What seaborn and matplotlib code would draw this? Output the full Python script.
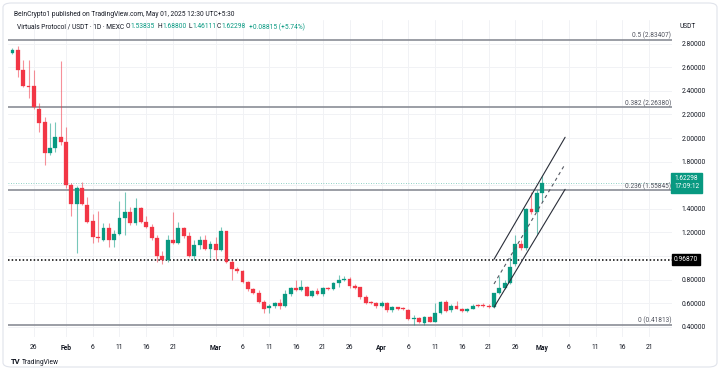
import numpy as np
import pandas as pd
import matplotlib
matplotlib.use("Agg")
import matplotlib.pyplot as plt
import matplotlib.dates as mdates
from matplotlib.patches import FancyBboxPatch
import seaborn as sns

# ---------------- data ----------------
start_date = "2025-01-22"
opens = [2.72, 2.75, 2.58, 2.44, 2.44, 2.25, 2.14, 1.87, 1.92, 2.01,
         1.97, 1.60, 1.44, 1.58, 1.43, 1.30, 1.16, 1.14, 1.24, 1.14,
         1.19, 1.32, 1.37, 1.28, 1.41, 1.29, 1.25, 1.15, 1.00, 0.97,
         1.14, 1.11, 1.24, 1.17, 1.00, 1.09, 1.14, 1.06, 1.10, 1.05,
         1.21, 0.95, 0.89, 0.87, 0.78, 0.72, 0.69, 0.61, 0.56, 0.58,
         0.60, 0.58, 0.676, 0.73, 0.71, 0.74, 0.665, 0.70, 0.68, 0.727,
         0.72, 0.77, 0.80, 0.81, 0.75, 0.735, 0.656, 0.61, 0.60, 0.575,
         0.60, 0.545, 0.565, 0.56, 0.545, 0.467, 0.475, 0.436, 0.48, 0.444,
         0.52, 0.614, 0.54, 0.58, 0.555, 0.537, 0.555, 0.585, 0.58, 0.575,
         0.566, 0.69, 0.727, 0.77, 0.93, 1.10, 1.066, 1.397, 1.374, 1.53835]
highs = [2.76, 2.78, 2.66, 2.66, 2.58, 2.30, 2.18, 2.13, 2.14, 2.65,
         2.09, 1.62, 1.59, 1.63, 1.50, 1.36, 1.38, 1.28, 1.28, 1.22,
         1.47, 1.54, 1.42, 1.49, 1.42, 1.34, 1.27, 1.18, 1.04, 1.18,
         1.37, 1.29, 1.25, 1.20, 1.14, 1.17, 1.18, 1.13, 1.16, 1.25,
         1.21, 0.97, 0.91, 0.88, 0.79, 0.73, 0.71, 0.63, 0.59, 0.61,
         0.64, 0.71, 0.74, 0.80, 0.80, 0.75, 0.71, 0.73, 0.74, 0.74,
         0.78, 0.84, 0.83, 0.82, 0.76, 0.74, 0.67, 0.62, 0.61, 0.62,
         0.61, 0.58, 0.57, 0.57, 0.55, 0.50, 0.48, 0.49, 0.49, 0.60,
         0.62, 0.63, 0.59, 0.62, 0.56, 0.56, 0.59, 0.59, 0.60, 0.59,
         0.69, 0.83, 0.80, 0.995, 1.18, 1.14, 1.41, 1.546, 1.56, 1.688]
lows = [2.71, 2.52, 2.43, 2.34, 2.25, 2.05, 1.77, 1.86, 1.88, 1.94,
        1.58, 1.34, 1.03, 1.43, 1.28, 1.11, 1.12, 1.13, 1.08, 1.08,
        1.18, 1.18, 1.26, 1.26, 1.28, 1.24, 1.14, 0.95, 0.93, 0.95,
        1.10, 1.10, 1.15, 0.99, 0.97, 1.06, 1.05, 0.98, 0.97, 1.04,
        0.94, 0.80, 0.86, 0.77, 0.70, 0.68, 0.60, 0.52, 0.52, 0.56,
        0.55, 0.57, 0.66, 0.70, 0.70, 0.66, 0.65, 0.67, 0.66, 0.71,
        0.71, 0.74, 0.79, 0.73, 0.72, 0.64, 0.59, 0.59, 0.56, 0.565,
        0.53, 0.53, 0.54, 0.54, 0.46, 0.415, 0.43, 0.42, 0.44, 0.44,
        0.51, 0.53, 0.53, 0.55, 0.53, 0.53, 0.55, 0.57, 0.57, 0.56,
        0.56, 0.68, 0.72, 0.76, 0.92, 1.05, 1.05, 1.36, 1.19, 1.46111]
closes = [2.75, 2.58, 2.44, 2.43, 2.26, 2.13, 1.87, 1.92, 2.01, 1.97,
          1.60, 1.44, 1.58, 1.44, 1.29, 1.16, 1.15, 1.24, 1.14, 1.19,
          1.32, 1.37, 1.28, 1.41, 1.29, 1.25, 1.15, 1.00, 0.97, 1.14,
          1.11, 1.24, 1.17, 1.00, 1.09, 1.14, 1.06, 1.10, 1.05, 1.21,
          0.95, 0.89, 0.87, 0.78, 0.72, 0.69, 0.61, 0.55, 0.58, 0.60,
          0.575, 0.676, 0.727, 0.71, 0.74, 0.665, 0.70, 0.68, 0.727, 0.72,
          0.77, 0.80, 0.81, 0.745, 0.73, 0.65, 0.60, 0.60, 0.575, 0.60,
          0.54, 0.565, 0.55, 0.553, 0.467, 0.475, 0.44, 0.487, 0.445, 0.52,
          0.61, 0.537, 0.575, 0.555, 0.537, 0.555, 0.58, 0.58, 0.575, 0.57,
          0.685, 0.727, 0.775, 0.91, 1.10, 1.066, 1.397, 1.37, 1.53483, 1.62298]

fib_ratios = ["0.5", "0.382", "0.236", "0"]
fib_prices = [2.83407, 2.26380, 1.55845, 0.41813]
marker_price = 0.96870
countdown = "17:09:12"

channel_dates = ["2025-04-22 00:00", "2025-05-05 07:00"]
channel_upper = [0.973, 2.007]
channel_mid = [0.764, 1.780]
channel_lower = [0.566, 1.566]

price_ticks = [0.4, 0.6, 0.8, 1.0, 1.2, 1.4, 1.6, 1.8, 2.0, 2.2, 2.4, 2.6, 2.8]
hidden_ticks = [1.0, 1.6]   # covered by the price boxes in the reference
date_ticks = ["2025-01-26", "2025-02-01", "2025-02-06", "2025-02-11", "2025-02-16",
              "2025-02-21", "2025-03-01", "2025-03-06", "2025-03-11", "2025-03-16",
              "2025-03-21", "2025-03-26", "2025-04-01", "2025-04-06", "2025-04-11",
              "2025-04-16", "2025-04-21", "2025-04-26", "2025-05-01", "2025-05-06",
              "2025-05-11", "2025-05-16", "2025-05-21"]
date_labels = ["26", "Feb", "6", "11", "16", "21", "Mar", "6", "11", "16", "21", "26",
               "Apr", "6", "11", "16", "21", "26", "May", "6", "11", "16", "21"]

# ---------------- style ----------------
sns.set_theme(style="white")
FONT = ["Roboto", "DejaVu Sans"]
plt.rcParams["font.family"] = FONT

GREEN = "#089981"
RED = "#F23645"
GRID = "#f1f2f5"
TXT = "#131722"
FIBC = "#8a8d96"

W, H = 720, 370
fig = plt.figure(figsize=(W / 100, H / 100), dpi=100)
fig.patch.set_facecolor("white")

L_px, R_px, T_px, B_px = 8, 672, 20, 337
ax = fig.add_axes([L_px / W, 1 - B_px / H, (R_px - L_px) / W, (B_px - T_px) / H])

dates = pd.date_range(start_date, periods=len(opens), freq="D")
df = pd.DataFrame({"date": dates, "open": opens, "high": highs,
                   "low": lows, "close": closes})
df["up"] = df["close"] >= df["open"]
df["color"] = np.where(df["up"], GREEN, RED)
df["bottom"] = df[["open", "close"]].min(axis=1)
df["height"] = (df["close"] - df["open"]).abs().clip(lower=0.008)

base = mdates.date2num(pd.Timestamp("2025-01-01"))
ax.set_xlim(base + 20.16, base + 144.27)
ax.set_ylim(0.3144, 3.0008)

# grid
ax.set_yticks(price_ticks)
ax.set_xticks(mdates.date2num(pd.to_datetime(date_ticks)))
ax.grid(True, color=GRID, lw=0.7)
ax.set_axisbelow(True)

# wicks
xnum = mdates.date2num(df["date"])
ax.vlines(xnum, df["low"], df["high"], colors=df["color"], lw=0.8, alpha=0.55, zorder=2)
# bodies
ax.bar(xnum, df["height"], bottom=df["bottom"], width=0.72, color=df["color"],
       edgecolor=df["color"], linewidth=0.2, zorder=3)

# fib levels
for r, p in zip(fib_ratios, fib_prices):
    ax.axhline(p, color=FIBC, lw=1.2, zorder=1.8)
    ax.text(0.9985, p, f"{r} ({p:.5f})", transform=ax.get_yaxis_transform(),
            ha="right", va="bottom", fontsize=4.7, color="#50535e", zorder=4)

# dotted black level
ax.axhline(marker_price, color="black", lw=1.1, ls=(0, (1.0, 1.4)), zorder=1.9)
# current price dotted
last_close = closes[-1]
ax.axhline(last_close, color=GREEN, lw=0.6, ls=(0, (1, 2)), alpha=0.6, zorder=1.9)

# channel lines
cdates = mdates.date2num(pd.to_datetime(channel_dates))
sns.lineplot(x=cdates, y=channel_upper, ax=ax, color="#2a2e39", lw=0.8, zorder=5)
sns.lineplot(x=cdates, y=channel_lower, ax=ax, color="#2a2e39", lw=0.8, zorder=5)
sns.lineplot(x=cdates, y=channel_mid, ax=ax, color="#555963", lw=0.8,
             linestyle=(0, (3, 3)), zorder=5)

# axes formatting
for s in ax.spines.values():
    s.set_visible(False)
ax.yaxis.tick_right()
ax.set_yticklabels(["" if v in hidden_ticks else f"{v:.5f}" for v in price_ticks])
ax.tick_params(axis="y", length=0, pad=7, labelsize=4.9, labelcolor=TXT)
ax.set_xticklabels(date_labels)
ax.tick_params(axis="x", length=0, pad=5, labelsize=4.9, labelcolor=TXT)
for lab in ax.get_xticklabels():
    if lab.get_text() in ("Feb", "Mar", "Apr", "May"):
        lab.set_fontweight("bold")
ax.set_xlabel("")
ax.set_ylabel("")

# price boxes on the right scale
ytr = ax.get_yaxis_transform()
ax.text(1.003, last_close, f"{last_close:.5f}\n{countdown}", transform=ytr,
        ha="left", va="center", fontsize=4.7, color="white", linespacing=1.15,
        bbox=dict(boxstyle="square,pad=0.4", fc=GREEN, ec=GREEN), zorder=6,
        clip_on=False)
ax.text(1.003, marker_price, f"{marker_price:.5f}", transform=ytr,
        ha="left", va="center", fontsize=4.8, color="white",
        bbox=dict(boxstyle="square,pad=0.3", fc="black", ec="black"), zorder=6,
        clip_on=False)

# header texts
def ftxt(x, y, s, **kw):
    fig.text(x / W, 1 - y / H, s, va="center", ha="left", **kw)

ftxt(14, 14, "BeInCrypto1 published on TradingView.com, May 01, 2025 12:30 UTC+5:30",
     fontsize=4.8, color=TXT)
ftxt(17, 27, "Virtuals Protocol / USDT · 1D · MEXC", fontsize=4.8, color=TXT)
prev_close = closes[-2]
chg = last_close - prev_close
pieces = [(125.5, "O", TXT), (130, f"{opens[-1]:.5f}", GREEN),
          (157.5, "H", TXT), (162, f"{highs[-1]:.5f}", GREEN),
          (188.5, "L", TXT), (192, f"{lows[-1]:.5f}", GREEN),
          (216.5, "C", TXT), (221, f"{last_close:.5f}", GREEN),
          (249, f"+{chg:.5f} (+{chg / prev_close * 100:.2f}%)", GREEN)]
for x, s, c in pieces:
    ftxt(x, 27, s, fontsize=4.8, color=c)

ftxt(680, 27, "USDT", fontsize=4.8, color=TXT)
ftxt(11, 362, "TV", fontsize=5.5, color=TXT, fontweight="bold")
ftxt(22, 362, "TradingView", fontsize=4.8, color=TXT)

# outer frame
frame = FancyBboxPatch((3 / W, 3 / H), 714 / W, 364 / H,
                       boxstyle="round,pad=0,rounding_size=0.012",
                       transform=fig.transFigure, fc="none", ec="#e0e3eb", lw=0.8)
fig.patches.append(frame)

fig.savefig("out.png", dpi=100)
